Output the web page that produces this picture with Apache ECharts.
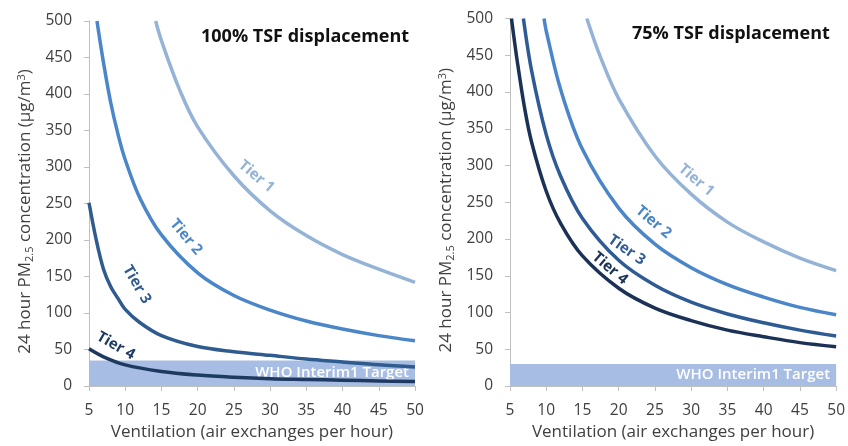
<!DOCTYPE html>
<html><head><meta charset="utf-8">
<script src="https://cdn.jsdelivr.net/npm/echarts@6/dist/echarts.min.js"></script>
<style>html,body{margin:0;padding:0;background:#fff}#c{width:848px;height:446px}</style>
</head><body><div id="c"></div>
<script>
// ---- data ----
const xTicks = [5, 10, 15, 20, 25, 30, 35, 40, 45, 50];
const yTicks = [0, 50, 100, 150, 200, 250, 300, 350, 400, 450, 500];
const tierNames = ['Tier 1', 'Tier 2', 'Tier 3', 'Tier 4'];
const panelTitles = ['100% TSF displacement', '75% TSF displacement'];
const whoLabel = 'WHO Interim1 Target';
const whoLeft = 35;
const whoRight = 30;

// 100% TSF displacement
const leftTier1X = [14.2, 15, 17.5, 20, 25, 30, 35, 40, 45, 50];
const leftTier1Y = [500, 473, 406, 355, 288, 240, 206, 180, 160, 142];
const leftTier2X = [6.1, 7, 8, 9, 10, 12, 15, 20, 25, 30, 35, 40, 45, 50];
const leftTier2Y = [500, 443, 388, 345, 310, 258, 207, 155, 124, 104, 89, 78, 69, 62];
const leftTier3X = [5, 6, 7, 8, 9, 10, 12, 15, 20, 25, 30, 35, 40, 45, 50];
const leftTier3Y = [251, 200, 160, 136, 120, 105, 87, 69, 54, 47, 42, 37, 33, 29, 26];
const leftTier4X = [5, 7, 10, 15, 20, 25, 30, 35, 40, 45, 50];
const leftTier4Y = [51, 40, 29, 20, 15, 12, 10, 9, 8, 7, 6];

// 75% TSF displacement
const rightTier1X = [15.6, 17.5, 20, 25, 30, 35, 40, 45, 50];
const rightTier1Y = [500, 447, 391, 313, 261, 223, 196, 174, 157];
const rightTier2X = [9.7, 10, 12, 15, 20, 25, 30, 35, 40, 45, 50];
const rightTier2Y = [500, 483, 403, 322, 242, 193, 161, 138, 121, 107, 97];
const rightTier3X = [6.85, 8, 10, 12, 15, 20, 25, 30, 35, 40, 45, 50];
const rightTier3Y = [500, 428, 342, 285, 228, 171, 137, 114, 98, 86, 76, 68];
const rightTier4X = [5.2, 6, 7, 8, 10, 12, 15, 20, 25, 30, 35, 40, 45, 50];
const rightTier4Y = [500, 442, 379, 331, 265, 221, 177, 133, 106, 89, 76, 67, 59, 53.5];

// label anchor points (data coords)
const leftLabelPos = [[28.1, 287], [18.4, 204], [11.6, 139], [8.7, 55]];
const rightLabelPos = [[30.7, 280], [24.8, 223], [21.1, 185], [18.8, 160]];

const FONT = 'Open Sans';
const leftColors = ['#95b3d7', '#4a86c8', '#2f5b8f', '#1f3a60'];
const rightColors = ['#95b3d7', '#4a86c8', '#2e5b94', '#1b3256'];
const leftAngles = [40, 50, 60, 30];
const rightAngles = [40, 40, 35, 40];

function zip(xs, ys) { return xs.map((x, i) => [x, ys[i]]); }

const chart = echarts.init(document.getElementById('c'), null, { renderer: 'canvas' });

function xAxis(gi) {
  return {
    type: 'value', gridIndex: gi, min: 5, max: 50, interval: 5,
    name: 'Ventilation (air exchanges per hour)', nameLocation: 'middle', nameGap: 38,
    nameTextStyle: { fontFamily: FONT, fontSize: 17, color: '#404040' },
    axisLine: { lineStyle: { color: '#bfbfbf', width: 1 } },
    axisTick: { show: true, length: 5, lineStyle: { color: '#bfbfbf' } },
    axisLabel: { fontFamily: FONT, fontSize: 15.5, color: '#404040', margin: 17 },
    splitLine: { show: false }
  };
}
function yAxis(gi) {
  return {
    type: 'value', gridIndex: gi, min: 0, max: 500, interval: 50,
    name: '24 hour PM{sub|2.5} concentration (µg/m{sup|3})', nameLocation: 'middle', nameGap: 54,
    nameRotate: 90,
    nameTextStyle: { fontFamily: FONT, fontSize: 17, color: '#404040', padding: [0, 16, 0, 0],
      rich: { sub: { fontFamily: FONT, fontSize: 11, color: '#404040', verticalAlign: 'bottom', padding: [8, 0, 0, 0] },
              sup: { fontFamily: FONT, fontSize: 11, color: '#404040', verticalAlign: 'top', padding: [0, 0, 8, 0] } } },
    axisLine: { show: true, lineStyle: { color: '#bfbfbf', width: 1 } },
    axisTick: { show: true, length: 5, lineStyle: { color: '#bfbfbf' } },
    axisLabel: { fontFamily: FONT, fontSize: 15.5, color: '#404040', margin: 17 },
    splitLine: { show: false }
  };
}

function lineSeries(name, data, color, gi) {
  return {
    name: name, type: 'line', xAxisIndex: gi, yAxisIndex: gi, data: data,
    smooth: 0.35, showSymbol: false, symbol: 'none', clip: true,
    lineStyle: { color: color, width: 3.5 }, z: 3
  };
}
function whoSeries(gi, top) {
  return {
    type: 'line', xAxisIndex: gi, yAxisIndex: gi, data: [], z: 1,
    markArea: {
      silent: true,
      itemStyle: { color: '#a7bde3' },
      label: { show: true, position: 'insideRight', distance: 6, color: '#ffffff', fontFamily: FONT,
               fontSize: 15, fontWeight: 600 },
      data: [[{ name: whoLabel, coord: [5, 0] }, { coord: [50, top] }]]
    }
  };
}

const leftData = [zip(leftTier1X, leftTier1Y), zip(leftTier2X, leftTier2Y), zip(leftTier3X, leftTier3Y), zip(leftTier4X, leftTier4Y)];
const rightData = [zip(rightTier1X, rightTier1Y), zip(rightTier2X, rightTier2Y), zip(rightTier3X, rightTier3Y), zip(rightTier4X, rightTier4Y)];

const series = [whoSeries(0, whoLeft), whoSeries(1, whoRight)];
tierNames.forEach((n, i) => series.push(lineSeries(n, leftData[i], leftColors[i], 0)));
tierNames.forEach((n, i) => series.push(lineSeries(n, rightData[i], rightColors[i], 1)));

chart.setOption({
  animation: false,
  textStyle: { fontFamily: FONT },
  title: [
    { text: panelTitles[0], left: 196, top: 23, textStyle: { fontFamily: FONT, fontSize: 18, fontWeight: 'bold', color: '#111' } },
    { text: panelTitles[1], left: 627, top: 20, textStyle: { fontFamily: FONT, fontSize: 18, fontWeight: 'bold', color: '#111' } }
  ],
  grid: [
    { left: 89, right: 433, top: 21, bottom: 57 },
    { left: 510, right: 10, top: 18.5, bottom: 60 }
  ],
  xAxis: [xAxis(0), xAxis(1)],
  yAxis: [yAxis(0), yAxis(1)],
  series: series
});

const graphics = [];
leftLabelPos.forEach((p, i) => {
  const px = chart.convertToPixel({ xAxisIndex: 0, yAxisIndex: 0 }, p);
  graphics.push({ type: 'text', x: px[0], y: px[1], rotation: -leftAngles[i] * Math.PI / 180,
    style: { text: tierNames[i], fill: leftColors[i], font: 'bold 15px ' + FONT, textAlign: 'center', textVerticalAlign: 'middle' }, z: 10 });
});
rightLabelPos.forEach((p, i) => {
  const px = chart.convertToPixel({ xAxisIndex: 1, yAxisIndex: 1 }, p);
  graphics.push({ type: 'text', x: px[0], y: px[1], rotation: -rightAngles[i] * Math.PI / 180,
    style: { text: tierNames[i], fill: rightColors[i], font: 'bold 15px ' + FONT, textAlign: 'center', textVerticalAlign: 'middle' }, z: 10 });
});
chart.setOption({ graphic: graphics });
</script></body></html>
